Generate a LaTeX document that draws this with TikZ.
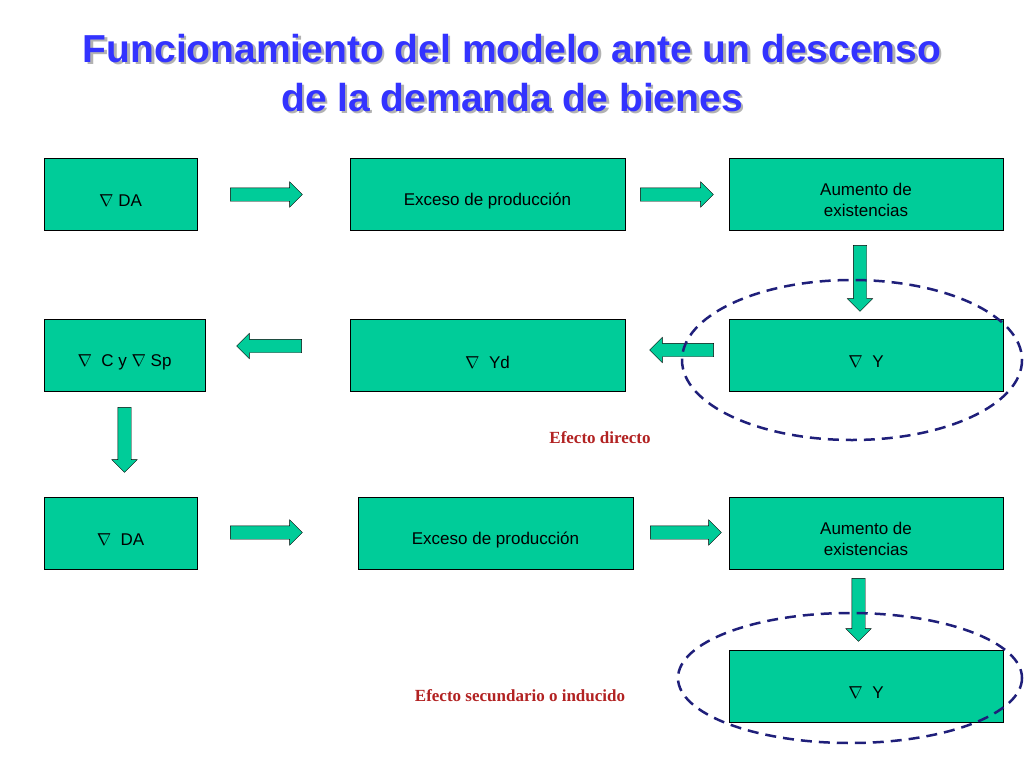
\documentclass[tikz,border=0pt]{standalone}
\usepackage{fontspec}
\setmainfont{Liberation Sans}
\newfontfamily\serifx{Liberation Serif}
\usetikzlibrary{shapes.arrows}
\definecolor{boxg}{HTML}{00CC99}
\definecolor{ttl}{HTML}{3333FF}
\definecolor{redd}{HTML}{B22222}
\definecolor{navy}{HTML}{1F1F7A}
\begin{document}
\begin{tikzpicture}[x=1pt,y=-1pt,
  bx/.style={draw=black,fill=boxg,minimum height=72,inner sep=0},
  bt/.style={font=\fontsize{17}{21}\selectfont,align=center,inner sep=0},
  blk/.style={draw=black,fill=boxg,single arrow,single arrow head extend=6pt,inner xsep=0,inner ysep=6.5pt,minimum width=25pt},
  lab/.style={font=\serifx\bfseries\fontsize{17}{20}\selectfont,text=redd},
  ell/.style={draw=navy,line width=2.5pt,dash pattern=on 11pt off 7pt}]
\useasboundingbox (0,0) rectangle (1024,768);
\node[font=\bfseries\fontsize{39}{49}\selectfont,text=gray!60,align=center] (tsh) at (514.5,75.5) {Funcionamiento del modelo ante un descenso\\de la demanda de bienes};
\node[font=\bfseries\fontsize{39}{49}\selectfont,text=ttl,align=center] (title) at (512,73) {Funcionamiento del modelo ante un descenso\\de la demanda de bienes};
\node[bx,minimum width=153] (da1) at (120.5,194) {};
\node[bt] at (120.5,201) {$\nabla$ DA};
\node[bx,minimum width=275] (ex1) at (487.5,194) {};
\node[bt] at (487.5,201) {Exceso de producción};
\node[bx,minimum width=274] (au1) at (866,194) {};
\node[bt] at (866,200) {Aumento de\\ existencias};
\node[bx,minimum width=161] (cy) at (124.5,355) {};
\node[bt] at (124.5,362) {$\nabla$\ \ C y $\nabla$ Sp};
\node[bx,minimum width=275] (yd) at (487.5,355) {};
\node[bt] at (487.5,362) {$\nabla$\ \ Yd};
\node[bx,minimum width=274] (y1) at (866,355) {};
\node[bt] at (866,362) {$\nabla$\ \ Y};
\node[bx,minimum width=153] (da2) at (120.5,533) {};
\node[bt] at (120.5,540) {$\nabla$\ \ DA};
\node[bx,minimum width=275] (ex2) at (495.5,533) {};
\node[bt] at (495.5,540) {Exceso de producción};
\node[bx,minimum width=274] (au2) at (866,533) {};
\node[bt] at (866,539) {Aumento de\\ existencias};
\node[bx,minimum width=274] (y2) at (866,686) {};
\node[bt] at (866,693) {$\nabla$\ \ Y};
% block arrows
\node[blk,minimum height=72] (a1) at (263,194.5) {};
\node[blk,minimum height=73] (a2) at (673.5,194.5) {};
\node[blk,minimum height=66,rotate=-90] (a3) at (860,275) {};
\node[blk,minimum height=65,rotate=180] (a4) at (272.5,346) {};
\node[blk,minimum height=64,rotate=180] (a5) at (685,350) {};
\node[blk,minimum height=65,rotate=-90] (a6) at (124.5,436.5) {};
\node[blk,minimum height=72] (a7) at (263,532.5) {};
\node[blk,minimum height=71] (a8) at (682.5,532.5) {};
\node[blk,minimum height=63,rotate=-90] (a9) at (858.5,606.5) {};
\draw[ell] (852,360) ellipse [x radius=170, y radius=80];
\draw[ell] (850,678) ellipse [x radius=172, y radius=65];
\node[lab] (l1) at (600,438) {Efecto directo};
\node[lab] (l2) at (520,696) {Efecto secundario o inducido};
\end{tikzpicture}
\end{document}
